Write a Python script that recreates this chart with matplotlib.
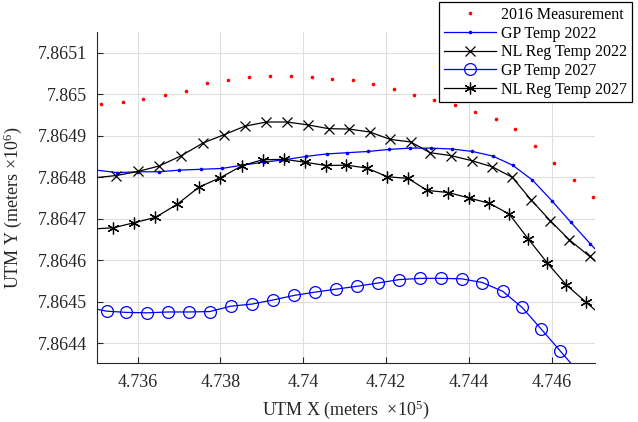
import matplotlib
matplotlib.use("Agg")
import matplotlib.pyplot as plt
from matplotlib.ticker import FuncFormatter, FixedLocator

plt.rcParams['font.family'] = ['Liberation Serif', 'DejaVu Serif']
plt.rcParams['mathtext.fontset'] = 'custom'
plt.rcParams['mathtext.rm'] = 'Liberation Serif'
plt.rcParams['mathtext.it'] = 'Liberation Serif'
plt.rcParams['mathtext.default'] = 'regular'

# ---- data (UTM metres) ----
meas_x = [473512, 473564, 473614, 473665, 473717, 473768, 473819, 473870, 473920,
          473970, 474021, 474070, 474120, 474169, 474219, 474267, 474316, 474366,
          474415, 474464, 474512, 474560, 474606, 474654, 474700]
meas_y = [7864976, 7864982, 7864989, 7864999, 7865008, 7865027, 7865034, 7865041,
          7865044, 7865044, 7865042, 7865037, 7865034, 7865024, 7865012, 7864998,
          7864986, 7864973, 7864957, 7864941, 7864916, 7864875, 7864834, 7864793,
          7864752]

gp22_x = [473500, 473551, 473602, 473652, 473701, 473752, 473803, 473853, 473904,
          473955, 474006, 474056, 474106, 474157, 474207, 474258, 474308, 474358,
          474408, 474457, 474505, 474553, 474600, 474646, 474692, 474739]
gp22_y = [7864817, 7864811, 7864813, 7864813, 7864817, 7864819, 7864821, 7864829,
          7864836, 7864842, 7864850, 7864856, 7864859, 7864862, 7864867, 7864870,
          7864870, 7864868, 7864862, 7864851, 7864829, 7864793, 7864743, 7864691,
          7864640, 7864590]

nl22_x = [473500, 473549, 473602, 473652, 473704, 473759, 473808, 473859, 473911,
          473961, 474011, 474061, 474110, 474160, 474210, 474259, 474306, 474356,
          474406, 474456, 474504, 474550, 474596, 474642, 474691, 474738]
nl22_y = [7864799, 7864804, 7864814, 7864827, 7864851, 7864883, 7864902, 7864923,
          7864933, 7864933, 7864926, 7864917, 7864916, 7864909, 7864891, 7864885,
          7864859, 7864852, 7864840, 7864825, 7864800, 7864745, 7864695, 7864649,
          7864609, 7864571]

gp27_x = [473475, 473525, 473573, 473623, 473674, 473724, 473774, 473825, 473876,
          473927, 473978, 474029, 474079, 474130, 474181, 474231, 474282, 474333,
          474382, 474432, 474481, 474528, 474574, 474620, 474666]
gp27_y = [7864487, 7864477, 7864474, 7864473, 7864475, 7864475, 7864476, 7864489,
          7864494, 7864504, 7864515, 7864523, 7864530, 7864537, 7864545, 7864553,
          7864556, 7864556, 7864555, 7864546, 7864525, 7864486, 7864434, 7864381,
          7864328]

nl27_x = [473490, 473541, 473591, 473643, 473696, 473748, 473800, 473853, 473902,
          473954, 474005, 474055, 474104, 474153, 474203, 474253, 474299, 474350,
          474399, 474449, 474497, 474543, 474589, 474635, 474682, 474728]
nl27_y = [7864675, 7864678, 7864690, 7864703, 7864735, 7864776, 7864799, 7864828,
          7864842, 7864843, 7864836, 7864828, 7864829, 7864822, 7864801, 7864797,
          7864768, 7864763, 7864750, 7864737, 7864711, 7864651, 7864593, 7864540,
          7864499, 7864459]

labels = ['2016 Measurement', 'GP Temp 2022', 'NL Reg Temp 2022',
          'GP Temp 2027', 'NL Reg Temp 2027']
x_ticks = [473600, 473800, 474000, 474200, 474400, 474600]
y_ticks = [7864400, 7864500, 7864600, 7864700, 7864800, 7864900, 7865000, 7865100]

# ---- figure ----
fig = plt.figure(figsize=(6.38, 4.22), dpi=100)
ax = fig.add_axes([97/638, 59/422, 498/638, 331/422])

dark = '#262626'
blue = '#0000ff'
inner = slice(1, -1)

ax.plot(meas_x, meas_y, linestyle='none', marker='o', markersize=2.6,
        color='#ff0000', markeredgewidth=0, label=labels[0], zorder=5)
ax.plot(gp22_x, gp22_y, color=blue, lw=0.9, marker='o', markersize=2.6,
        markeredgewidth=0, markevery=inner, label=labels[1], zorder=4)
ax.plot(nl22_x, nl22_y, color='black', lw=0.9, marker='x', markersize=7,
        markeredgewidth=0.9, markevery=inner, label=labels[2], zorder=4)
ax.plot(gp27_x, gp27_y, color=blue, lw=0.9, marker='o', markersize=8.5,
        markerfacecolor='none', markeredgewidth=0.9, markevery=inner,
        label=labels[3], zorder=4)
ax.plot(nl27_x, nl27_y, color='black', lw=0.9, marker=(6, 2, 0), markersize=8.5,
        markeredgewidth=0.9, markevery=inner, label=labels[4], zorder=4)

ax.set_xlim(473502, 474704)
ax.set_ylim(7864352, 7865150)

def fmt(scale):
    def f(v, pos):
        s = '%.4f' % (v / scale)
        return s.rstrip('0').rstrip('.')
    return FuncFormatter(f)

ax.xaxis.set_major_locator(FixedLocator(x_ticks))
ax.yaxis.set_major_locator(FixedLocator(y_ticks))
ax.xaxis.set_major_formatter(fmt(1e5))
ax.yaxis.set_major_formatter(fmt(1e6))

ax.grid(True, color='#dfdfdf', lw=0.8, zorder=0)
ax.set_axisbelow(True)
for s in ['top', 'right']:
    ax.spines[s].set_visible(False)
for s in ['left', 'bottom']:
    ax.spines[s].set_color(dark)
    ax.spines[s].set_linewidth(0.8)

ax.tick_params(axis='both', direction='in', length=4, width=0.8, color=dark,
               labelcolor=dark, labelsize=13)
ax.tick_params(axis='x', pad=8)
ax.tick_params(axis='y', pad=7)

ax.set_xlabel('UTM X (meters  \u00d710$^5$)', fontsize=13, color=dark)
ax.set_ylabel('UTM Y (meters \u00d710$^6$)', fontsize=13, color=dark)
ax.xaxis.set_label_coords(0.5, -0.108)
ax.yaxis.set_label_coords(-0.146, 0.47)

leg = ax.legend(loc='upper right', bbox_to_anchor=(632/638, 420/422),
                bbox_transform=fig.transFigure, fontsize=11.5, frameon=True,
                fancybox=False, framealpha=1, edgecolor='black',
                handlelength=3.3, handletextpad=0.3, borderpad=0.3,
                labelspacing=0.17, borderaxespad=0)
leg.get_frame().set_linewidth(0.9)
leg.set_zorder(10)

fig.savefig('out.png', dpi=100)
